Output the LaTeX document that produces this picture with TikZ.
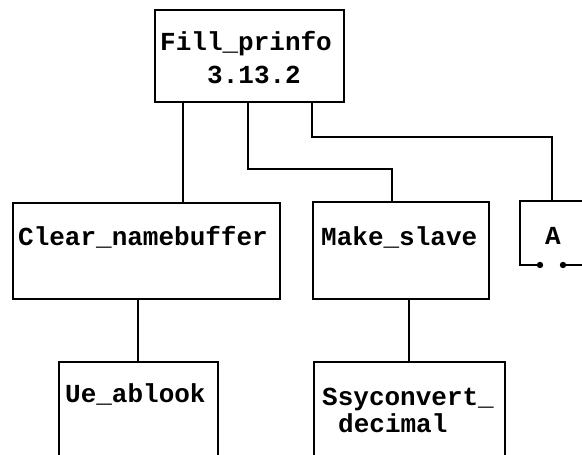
\documentclass[tikz,border=0pt]{standalone}
\usepackage{fontspec}
\setmonofont{Liberation Mono}
\begin{document}
\begin{tikzpicture}[x=1pt,y=-1pt,
  box/.style={draw,line width=2pt,inner sep=0pt,anchor=north west},
  lbl/.style={font=\ttfamily\bfseries\fontsize{26}{33}\selectfont,inner sep=0pt,anchor=base west},
  conn/.style={line width=1.8pt}]
\useasboundingbox (0,0) rectangle (582,455);
\clip (0,0) rectangle (582,455);
% boxes
\node[box,minimum width=189pt,minimum height=92pt] (top) at (154,9) {};
\node[box,minimum width=267pt,minimum height=96pt] (cnb) at (12,202) {};
\node[box,minimum width=176pt,minimum height=97pt] (ms) at (312,201) {};
\node[box,minimum width=159pt,minimum height=120pt] (ue) at (58,361) {};
\node[box,minimum width=191pt,minimum height=120pt] (ss) at (313,361) {};
% A box (open on the right, with a gap in its bottom edge)
\coordinate (atl) at (520,201);
\coordinate (abl) at (520,265);
\coordinate (d1) at (540,265);
\coordinate (d2) at (563,265);
\coordinate (atr) at (600,201);
\coordinate (abr) at (600,265);
\draw[line width=2pt] (d1) -- (abl) -- (atl) -- (atr);
\draw[line width=2pt] (d2) -- (abr);
\fill (d1) circle (3.2pt);
\fill (d2) circle (3.2pt);
% labels
\node[lbl] (t1) at (160,50) {Fill\_prinfo};
\node[lbl] (t2) at (207,83) {3.13.2};
\node[lbl] (t3) at (18,245) {Clear\_namebuffer};
\node[lbl] (t4) at (321,245) {Make\_slave};
\node[lbl] (t5) at (545,244) {A};
\node[lbl] (t6) at (65,402) {Ue\_ablook};
\node[lbl] (t7) at (322,405) {Ssyconvert\_};
\node[lbl] (t8) at (338,432) {decimal};
% connector points
\coordinate (c1) at (183,0);
\coordinate (c2) at (248,169);
\coordinate (c3) at (392,169);
\coordinate (c4) at (312,137);
\coordinate (c5) at (552,137);
\coordinate (c6) at (138,0);
\coordinate (c7) at (409,0);
% connectors
\draw[conn] (top.south -| c1) -- (cnb.north -| c1);
\draw[conn] (top.south -| c2) -- (c2) -- (c3) -- (ms.north -| c3);
\draw[conn] (top.south -| c4) -- (c4) -- (c5) -- (atl -| c5);
\draw[conn] (cnb.south -| c6) -- (ue.north -| c6);
\draw[conn] (ms.south -| c7) -- (ss.north -| c7);
\end{tikzpicture}
\end{document}
